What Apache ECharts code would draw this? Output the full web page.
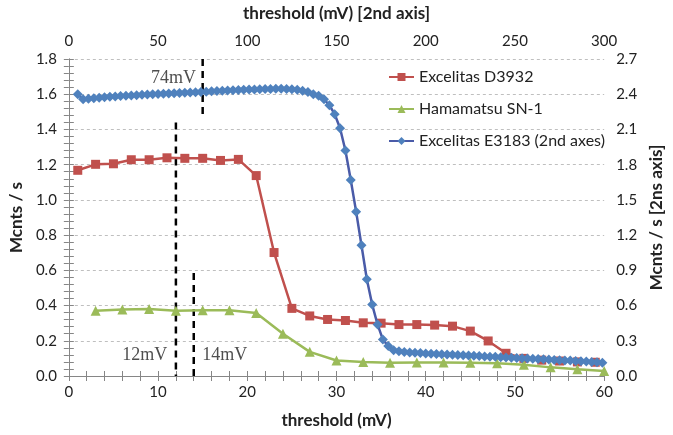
<!DOCTYPE html>
<html>
<head>
<meta charset="utf-8">
<script src="https://cdn.jsdelivr.net/npm/echarts@6/dist/echarts.min.js"></script>
<style>html,body{margin:0;padding:0;background:#fff}#c{width:673px;height:435px}</style>
</head>
<body>
<div id="c"></div>
<script>
// Excelitas D3932 (bottom/left axes)
var redX = [1,3,5,7,9,11,13,15,17,19,21,23,25,27,29,31,33,35,37,39,41,43,45,47,49,51,53,55,57,59];
var redY = [1.168,1.202,1.205,1.228,1.228,1.239,1.236,1.236,1.224,1.230,1.138,0.701,0.384,0.341,0.321,0.315,0.302,0.300,0.292,0.292,0.289,0.283,0.255,0.199,0.129,0.100,0.090,0.085,0.080,0.078];
// Hamamatsu SN-1 (bottom/left axes)
var greenX = [3,6,9,12,15,18,21,24,27,30,33,36,39,42,45,48,51,54,57,60];
var greenY = [0.371,0.377,0.381,0.371,0.373,0.373,0.358,0.240,0.137,0.088,0.079,0.075,0.077,0.077,0.075,0.073,0.064,0.049,0.038,0.028];
// Excelitas E3183 (top/right axes)
var blueX = [5,8,11,14,17,20,23,26,29,32,35,38,41,44,47,50,53,56,59,62,65,68,71,74,77,80,83,86,89,92,95,98,101,104,107,110,113,116,119,122,125,128,131,134,137,140,143,146,149,152,155,158,161,164,167,170,173,176,179,182,185,188,191,194,197,200,203,206,209,212,215,218,221,224,227,230,233,236,239,242,245,248,251,254,257,260,263,266,269,272,275,278,281,284,287,290,293,296,299];
var blueY = [2.400,2.357,2.362,2.366,2.370,2.374,2.378,2.381,2.384,2.387,2.390,2.392,2.395,2.397,2.400,2.402,2.404,2.406,2.408,2.410,2.412,2.414,2.416,2.419,2.422,2.425,2.428,2.430,2.432,2.434,2.436,2.438,2.440,2.441,2.442,2.444,2.445,2.446,2.446,2.444,2.442,2.438,2.430,2.418,2.400,2.386,2.357,2.306,2.230,2.110,1.920,1.670,1.400,1.114,0.824,0.608,0.439,0.310,0.256,0.219,0.210,0.205,0.201,0.198,0.195,0.192,0.190,0.187,0.185,0.183,0.180,0.178,0.176,0.174,0.172,0.170,0.167,0.165,0.163,0.160,0.158,0.156,0.153,0.151,0.149,0.146,0.144,0.142,0.140,0.137,0.135,0.133,0.131,0.128,0.126,0.123,0.120,0.117,0.113];

// annotation markers
var line12 = [[12,1.44],[12,0]];
var line14 = [[14,0.585],[14,0]];
var line74 = [[75,2.70],[75,2.19]];
var lbl12 = [11.6,0.118];
var lbl14 = [14.4,0.118];
var lbl74 = [74,2.54];

function zip(a,b){return a.map(function(v,i){return [v,b[i]];});}

var FONT = 'Lato';
var axisLineC = '#868686';
var txt = '#222';

var chart = echarts.init(document.getElementById('c'));
chart.setOption({
  animation:false,
  backgroundColor:'#fff',
  textStyle:{fontFamily:FONT},
  grid:{left:66,right:60,top:56,bottom:59},
  legend:{
    orient:'vertical', left:388, top:69, padding:0, itemGap:16, itemWidth:25, itemHeight:10,
    textStyle:{fontFamily:FONT,fontSize:16,color:txt},
    data:['Excelitas D3932','Hamamatsu SN-1','Excelitas E3183 (2nd axes)']
  },
  xAxis:[
    {type:'value',position:'bottom',min:0,max:60,interval:10,
     name:'threshold (mV)',nameLocation:'middle',nameGap:36,
     nameTextStyle:{fontFamily:FONT,fontSize:17,fontWeight:'bold',color:txt},
     axisLine:{lineStyle:{color:axisLineC}},
     axisTick:{show:true,inside:false,length:5,lineStyle:{color:axisLineC}},
     minorTick:{show:true,splitNumber:5,length:5,lineStyle:{color:axisLineC}},
     axisLabel:{fontFamily:FONT,fontSize:15,color:txt,margin:9},
     splitLine:{show:false}},
    {type:'value',position:'top',min:0,max:300,interval:50,
     name:'threshold (mV) [2nd axis]',nameLocation:'middle',nameGap:37,
     nameTextStyle:{fontFamily:FONT,fontSize:17,fontWeight:'bold',color:txt},
     axisLine:{lineStyle:{color:axisLineC}},
     axisTick:{show:true,inside:false,length:5,lineStyle:{color:axisLineC}},
     minorTick:{show:true,splitNumber:5,length:5,lineStyle:{color:axisLineC}},
     axisLabel:{fontFamily:FONT,fontSize:15,color:txt,margin:10},
     splitLine:{show:false}}
  ],
  yAxis:[
    {type:'value',position:'left',min:0,max:1.8,interval:0.2,
     name:'Mcnts / s',nameLocation:'middle',nameGap:38,nameRotate:90,
     nameTextStyle:{fontFamily:FONT,fontSize:17,fontWeight:'bold',color:txt},
     axisLine:{show:true,lineStyle:{color:axisLineC}},
     axisTick:{show:true,inside:false,length:5,lineStyle:{color:axisLineC}},
     minorTick:{show:true,splitNumber:5,length:5,lineStyle:{color:axisLineC}},
     axisLabel:{fontFamily:FONT,fontSize:15,color:txt,margin:12,formatter:function(v){return v.toFixed(1);}},
     splitLine:{show:true,lineStyle:{color:'#bfbfbf',type:[3,3],width:1}}},
    {type:'value',position:'right',min:0,max:2.7,interval:0.3,
     name:'Mcnts / s [2ns axis]',nameLocation:'middle',nameGap:39,nameRotate:90,
     nameTextStyle:{fontFamily:FONT,fontSize:17,fontWeight:'bold',color:txt},
     axisLine:{show:true,lineStyle:{color:axisLineC}},
     axisTick:{show:true,inside:false,length:5,lineStyle:{color:axisLineC}},
     minorTick:{show:true,splitNumber:5,length:5,lineStyle:{color:axisLineC}},
     axisLabel:{fontFamily:FONT,fontSize:15,color:txt,margin:12,formatter:function(v){return v.toFixed(1);}},
     splitLine:{show:false}}
  ],
  series:[
    {name:'Excelitas D3932',type:'line',xAxisIndex:0,yAxisIndex:0,data:zip(redX,redY),
     symbol:'rect',symbolSize:9,itemStyle:{color:'#C0504D'},lineStyle:{color:'#C0504D',width:2.5},z:3},
    {name:'Hamamatsu SN-1',type:'line',xAxisIndex:0,yAxisIndex:0,data:zip(greenX,greenY),
     symbol:'triangle',symbolSize:10,itemStyle:{color:'#9BBB59'},lineStyle:{color:'#9BBB59',width:2.5},z:3},
    {name:'Excelitas E3183 (2nd axes)',type:'line',xAxisIndex:1,yAxisIndex:1,data:zip(blueX,blueY),
     symbol:'diamond',symbolSize:10,itemStyle:{color:'#4F81BD'},lineStyle:{color:'#4A5BA8',width:2.5},z:4},
    {type:'line',xAxisIndex:0,yAxisIndex:0,data:line12,symbol:'none',silent:true,
     lineStyle:{color:'#000',width:2.5,type:[7,5]},z:2},
    {type:'line',xAxisIndex:0,yAxisIndex:0,data:line14,symbol:'none',silent:true,
     lineStyle:{color:'#000',width:2.5,type:[7,5]},z:2},
    {type:'line',xAxisIndex:1,yAxisIndex:1,data:line74,symbol:'none',silent:true,
     lineStyle:{color:'#000',width:2.5,type:[7,5]},z:2},
    {type:'scatter',xAxisIndex:0,yAxisIndex:0,symbolSize:0,silent:true,
     data:[{value:lbl12,label:{formatter:'12mV',position:'left'}},{value:lbl14,label:{formatter:'14mV',position:'right'}}],
     label:{show:true,fontFamily:'Liberation Serif',fontSize:18,color:'#222',distance:5}},
    {type:'scatter',xAxisIndex:1,yAxisIndex:1,symbolSize:0,silent:true,
     data:[{value:lbl74,label:{formatter:'74mV',position:'left'}}],
     label:{show:true,fontFamily:'Liberation Serif',fontSize:18,color:'#222',distance:5}}
  ]
});
</script>
</body>
</html>
